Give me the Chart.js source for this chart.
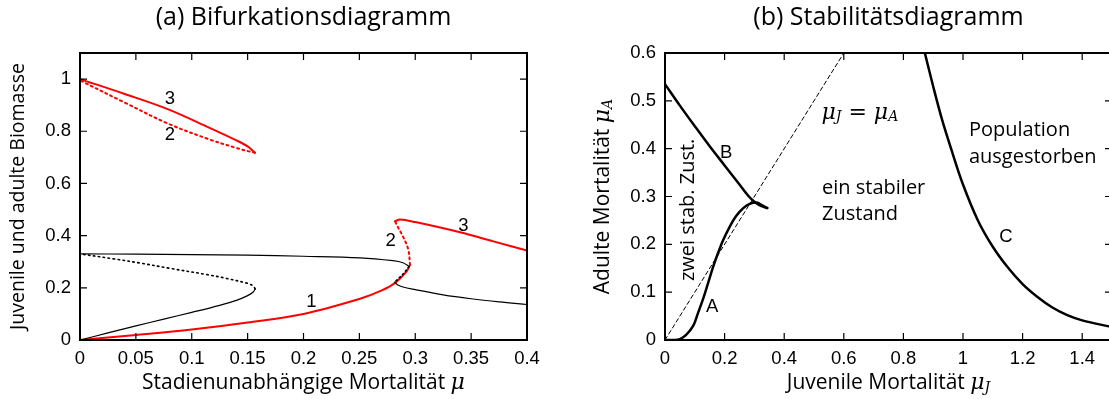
<!DOCTYPE html>
<html><head><meta charset="utf-8">
<script src="https://cdn.jsdelivr.net/npm/chart.js@4/dist/chart.umd.min.js"></script>
<style>
html,body{margin:0;padding:0;background:#fff;overflow:hidden;width:1109px;height:399px}
#wa{position:absolute;left:0;top:0;width:560px;height:399px}
#wb{position:absolute;left:560px;top:0;width:560px;height:399px}
</style></head><body>
<div id="wa"><canvas id="ca"></canvas></div>
<div id="wb"><canvas id="cb"></canvas></div>
<script>
// ---------- Panel (a) data ----------
const aXTicks = [0,0.05,0.1,0.15,0.2,0.25,0.3,0.35,0.4];
const aYTicks = [0,0.2,0.4,0.6,0.8,1];
// black: upper stable branch (fold at ~0.294)
const blackUpper = [[0,0.330],[0.05,0.329],[0.1,0.327],[0.15,0.325],[0.2,0.321],[0.2506,0.315],[0.28,0.304],[0.289,0.296],[0.2944,0.282]];
// black: unstable middle branch between folds near 0.28-0.29
const blackMidRight = [[0.2944,0.282],[0.291,0.262],[0.2865,0.242],[0.2815,0.222]];
// black: lower stable branch on right
const blackLowerRight = [[0.2815,0.222],[0.284,0.212],[0.289,0.203],[0.3,0.193],[0.325,0.173],[0.35,0.158],[0.375,0.146],[0.4,0.136]];
// black: left fold, stable lower branch
const blackLeftSolid = [[0,0],[0.025,0.027],[0.05,0.054],[0.075,0.08],[0.1,0.106],[0.125,0.133],[0.14,0.152],[0.15,0.17],[0.155,0.184],[0.1568,0.196]];
// black: left fold, unstable branch
const blackLeftDotted = [[0.1568,0.196],[0.155,0.207],[0.15,0.217],[0.13,0.237],[0.1145,0.25],[0.08,0.275],[0.055,0.294],[0.03,0.311],[0,0.330]];
// red: lower branch 1
const red1 = [[0,0],[0.05,0.019],[0.1,0.04],[0.15,0.067],[0.2,0.1],[0.2506,0.158],[0.27,0.19],[0.282,0.219],[0.2923,0.263],[0.2953,0.288]];
// red: unstable branch 2
const red2 = [[0.2953,0.288],[0.2938,0.346],[0.289,0.397],[0.2848,0.43],[0.2819,0.455]];
// red: upper branch 3
const red3 = [[0.2819,0.455],[0.2864,0.462],[0.3,0.452],[0.34,0.413],[0.37,0.378],[0.4,0.343]];
// red: top branch 3 (stable) and 2 (unstable)
const redTopSolid = [[0,1.0],[0.04,0.943],[0.079,0.884],[0.115,0.815],[0.14,0.765],[0.15,0.742],[0.1566,0.718]];
const redTopDotted = [[0.1566,0.718],[0.15,0.724],[0.14,0.736],[0.115,0.77],[0.079,0.829],[0.04,0.91],[0,0.995]];
const aLabels = [[0.0805,0.923,'3'],[0.0805,0.785,'2'],[0.207,0.146,'1'],[0.278,0.381,'2'],[0.343,0.438,'3']];

// ---------- Panel (b) data ----------
const bXTicks = [0,0.2,0.4,0.6,0.8,1,1.2,1.4];
const bYTicks = [0,0.1,0.2,0.3,0.4,0.5,0.6];
const curveA = [[0,0],[0.03,0],[0.05,0.002],[0.07,0.01],[0.095,0.03],[0.11,0.055],[0.129,0.088],[0.145,0.12],[0.162,0.154],[0.18,0.185],[0.196,0.21],[0.229,0.25],[0.25,0.268],[0.274,0.281],[0.295,0.287],[0.31,0.287],[0.325,0.282],[0.343,0.276]];
const curveB = [[0,0.535],[0.05,0.49],[0.1,0.447],[0.15,0.405],[0.2,0.365],[0.25,0.325],[0.28,0.301],[0.3,0.289],[0.32,0.281],[0.343,0.276]];
const curveC = [[0.872,0.6],[0.9,0.53],[0.93,0.46],[0.96,0.4],[1.0,0.325],[1.05,0.25],[1.1,0.195],[1.15,0.152],[1.2,0.117],[1.25,0.09],[1.3,0.068],[1.35,0.052],[1.4,0.041],[1.5,0.027]];
const diagonal = [[0,0],[0.6,0.6]];
const bLetters = [[0.205,0.391,'B'],[0.158,0.07,'A'],[1.144,0.216,'C']];

const SANS = '"Open Sans", "Noto Sans", sans-serif';
const TICKF = '"Liberation Sans", Arial, sans-serif';
const SERIF = '"DejaVu Serif", "Liberation Serif", serif';

function pts(a){return a.map(p=>({x:p[0],y:p[1]}));}
function ds(a,color,w,dash){return {data:pts(a),borderColor:color,borderWidth:w,borderDash:dash||[],pointRadius:0,showLine:true,fill:false,tension:0.35,borderCapStyle:'round'};}

function richWidth(ctx,segs){let w=0;segs.forEach(s=>{ctx.font=s.f;w+=ctx.measureText(s.t).width;});return w;}
function drawRich(ctx,segs,x,y){let cx=x;ctx.textAlign='left';ctx.textBaseline='middle';segs.forEach(s=>{ctx.font=s.f;ctx.fillText(s.t,cx,y+(s.dy||0));cx+=ctx.measureText(s.t).width;});}

const frameTicks = {
  id:'frameTicks',
  afterDatasetsDraw(chart,args,o){
    const {ctx,chartArea:{left,right,top,bottom},scales:{x,y}}=chart;
    ctx.save();ctx.strokeStyle='#000';
    ctx.lineWidth=1.2;
    const L=7;
    ctx.beginPath();
    x.ticks.forEach(t=>{const p=x.getPixelForValue(t.value);ctx.moveTo(p,bottom);ctx.lineTo(p,bottom-L);ctx.moveTo(p,top);ctx.lineTo(p,top+L);});
    y.ticks.forEach(t=>{const p=y.getPixelForValue(t.value);ctx.moveTo(left,p);ctx.lineTo(left+L,p);ctx.moveTo(right,p);ctx.lineTo(right-L,p);});
    ctx.stroke();
    ctx.lineWidth=2;
    ctx.strokeRect(left,top,right-left,bottom-top);
    ctx.fillStyle='#000';
    const xs=o.xTitle, ys=o.yTitle;
    const cxm=(left+right)/2;
    const wx=richWidth(ctx,xs);
    drawRich(ctx,xs,cxm-wx/2,bottom+43);
    ctx.save();
    ctx.translate(left-62,(top+bottom)/2);ctx.rotate(-Math.PI/2);
    const wy=richWidth(ctx,ys);
    drawRich(ctx,ys,-wy/2,0);
    ctx.restore();
    (o.labels||[]).forEach(l=>{
      const px=x.getPixelForValue(l.x), py=y.getPixelForValue(l.y);
      ctx.save();ctx.translate(px,py);if(l.rot)ctx.rotate(l.rot);
      if(l.segs){const w=richWidth(ctx,l.segs);drawRich(ctx,l.segs,l.align==='left'?0:-w/2,0);}
      else{ctx.font=l.f;ctx.textAlign=l.align||'center';ctx.textBaseline='middle';ctx.fillText(l.t,0,0);}
      ctx.restore();
    });
    ctx.restore();
  }
};

function scaleOpts(min,max,ticksArr,isX,size){
  return {
    type:'linear',min:min,max:max,
    afterBuildTicks:s=>{s.ticks=ticksArr.map(v=>({value:v}));},
    afterFit:s=>{if(isX)s.height=size;else s.width=size;},
    grid:{display:false,drawTicks:false},
    border:{display:false},
    ticks:{color:'#000',font:{family:TICKF,size:18.5},padding:isX?8:9,maxRotation:0,autoSkip:false,callback:v=>String(v)}
  };
}
const titleFont={family:SANS,size:25,weight:'normal',lineHeight:1.2};
const txt='20px '+SANS;

const aLab = aLabels.map(l=>({x:l[0],y:l[1],t:l[2],f:'18.5px '+TICKF}));
new Chart(document.getElementById('ca'),{
  type:'scatter',
  data:{datasets:[
    ds(blackUpper,'#000',1.2),
    ds(blackMidRight,'#000',1.6,[1.5,3]),
    ds(blackLowerRight,'#000',1.2),
    ds(blackLeftSolid,'#000',1.2),
    ds(blackLeftDotted,'#000',1.6,[1.5,3.5]),
    ds(red1,'#ff0000',2),
    ds(red2,'#ff0000',2,[2,3.5]),
    ds(red3,'#ff0000',2),
    ds(redTopSolid,'#ff0000',2),
    ds(redTopDotted,'#ff0000',2,[2,3.5])
  ]},
  options:{
    responsive:true,maintainAspectRatio:false,animation:false,
    layout:{padding:{left:0,right:33,top:0,bottom:0}},
    scales:{x:scaleOpts(0,0.4,aXTicks,true,59),y:scaleOpts(0,1.1,aYTicks,false,80)},
    plugins:{legend:{display:false},tooltip:{enabled:false},
      title:{display:true,fullSize:false,text:'(a) Bifurkationsdiagramm',color:'#000',font:titleFont,padding:{top:3,bottom:20}},
      frameTicks:{
        xTitle:[{t:'Stadienunabhängige Mortalität ',f:'21px '+SANS},{t:'μ',f:'italic 22px '+SERIF}],
        yTitle:[{t:'Juvenile und adulte Biomasse',f:'19.5px '+SANS}],
        labels:aLab}
    }
  },
  plugins:[frameTicks]
});

const bLab = bLetters.map(l=>({x:l[0],y:l[1],t:l[2],f:'18.5px '+TICKF}));
bLab.push({x:0.654,y:0.475,segs:[{t:'μ',f:'italic 22px '+SERIF},{t:'J',f:'italic 14px '+SERIF,dy:5},{t:' = ',f:'22px '+SERIF},{t:'μ',f:'italic 22px '+SERIF},{t:'A',f:'italic 14px '+SERIF,dy:5}]});
bLab.push({x:1.02,y:0.439,t:'Population',f:txt,align:'left'});
bLab.push({x:1.02,y:0.381,t:'ausgestorben',f:txt,align:'left'});
bLab.push({x:0.527,y:0.318,t:'ein stabiler',f:txt,align:'left'});
bLab.push({x:0.527,y:0.262,t:'Zustand',f:txt,align:'left'});
bLab.push({x:0.077,y:0.272,t:'zwei stab. Zust.',f:txt,rot:-Math.PI/2});

new Chart(document.getElementById('cb'),{
  type:'scatter',
  data:{datasets:[
    ds(diagonal,'#000',1,[4,3]),
    ds(curveA,'#000',2.5),
    ds(curveB,'#000',2.5),
    ds(curveC,'#000',2.5)
  ]},
  options:{
    responsive:true,maintainAspectRatio:false,animation:false,
    layout:{padding:{left:0,right:8,top:0,bottom:0}},
    scales:{x:scaleOpts(0,1.5,bXTicks,true,59),y:scaleOpts(0,0.6,bYTicks,false,105)},
    plugins:{legend:{display:false},tooltip:{enabled:false},
      title:{display:true,fullSize:false,text:'(b) Stabilitätsdiagramm',color:'#000',font:titleFont,padding:{top:3,bottom:20}},
      frameTicks:{
        xTitle:[{t:'Juvenile Mortalität ',f:'21px '+SANS},{t:'μ',f:'italic 22px '+SERIF},{t:'J',f:'italic 14px '+SERIF,dy:5}],
        yTitle:[{t:'Adulte Mortalität ',f:'21px '+SANS},{t:'μ',f:'italic 22px '+SERIF},{t:'A',f:'italic 14px '+SERIF,dy:5}],
        labels:bLab}
    }
  },
  plugins:[frameTicks]
});
</script>
</body></html>
